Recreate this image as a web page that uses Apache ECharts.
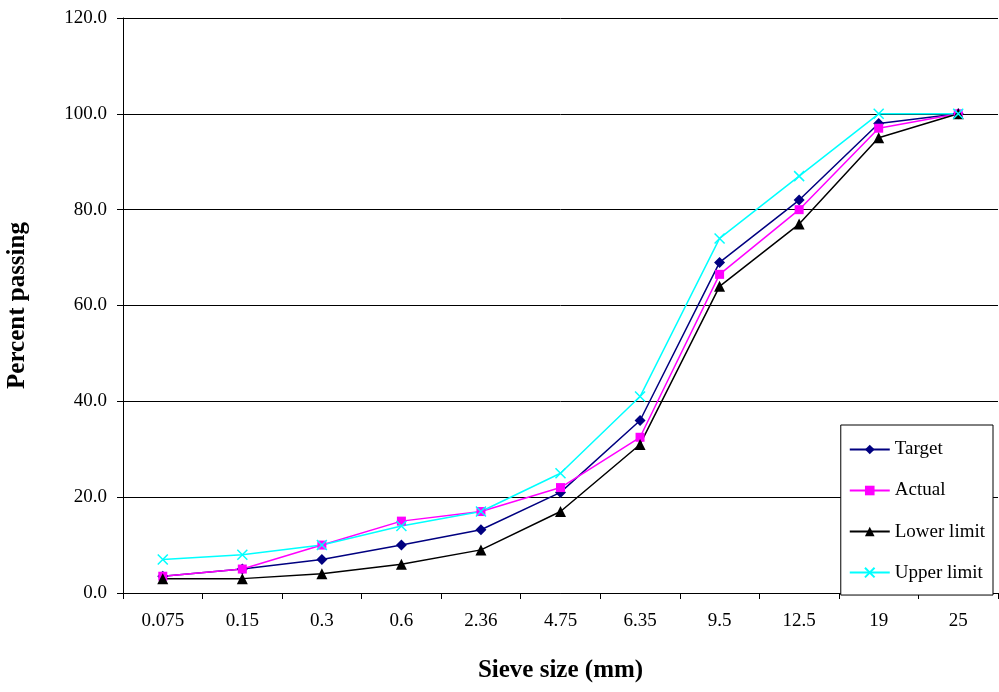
<!DOCTYPE html>
<html>
<head>
  <script src="https://cdn.jsdelivr.net/npm/echarts@6/dist/echarts.min.js"></script>
  <style>body{margin:0;background:#fff}#c{width:999px;height:692px}</style>
</head>
<body>
<div id="c"></div>
<script>
const sizes = ['0.075', '0.15', '0.3', '0.6', '2.36', '4.75', '6.35', '9.5', '12.5', '19', '25'];
const target = [3.5, 5, 7, 10, 13.2, 21, 36, 69, 82, 98, 100];
const actual = [3.5, 5, 10, 15, 17, 22, 32.5, 66.5, 80, 97, 100];
const lower = [3, 3, 4, 6, 9, 17, 31, 64, 77, 95, 100];
const upper = [7, 8, 10, 14, 17, 25, 41, 74, 87, 100, 100];

const font = 'Liberation Serif';
function line(name, data, color, symbol, size) {
  return {name, type: 'line', data, symbol, symbolSize: size,
    lineStyle: {color, width: 1.5}, itemStyle: {color}};
}
const option = {
  animation: false,
  textStyle: {fontFamily: font},
  grid: {left: 123, right: 1, top: 18, bottom: 99, outerBoundsMode: 'none', containLabel: false},
  xAxis: {
    type: 'category', data: sizes, boundaryGap: true,
    name: 'Sieve size (mm)', nameLocation: 'middle', nameGap: 58,
    nameTextStyle: {fontSize: 25, fontWeight: 'bold', color: '#000', fontFamily: font},
    axisLine: {lineStyle: {color: '#000'}},
    axisTick: {show: true, inside: false, length: 6, lineStyle: {color: '#000'}},
    axisLabel: {fontSize: 19, color: '#000', margin: 14, fontFamily: font}
  },
  yAxis: {
    type: 'value', min: 0, max: 120, interval: 20,
    name: 'Percent passing', nameLocation: 'middle', nameGap: 86,
    nameTextStyle: {fontSize: 25, fontWeight: 'bold', color: '#000', fontFamily: font},
    axisLine: {show: true, lineStyle: {color: '#000'}},
    axisTick: {show: true, length: 6, lineStyle: {color: '#000'}},
    axisLabel: {fontSize: 19, color: '#000', margin: 16, formatter: v => v.toFixed(1), fontFamily: font},
    splitLine: {lineStyle: {color: '#000', width: 1}}
  },
  legend: {
    orient: 'vertical', right: 6, top: 425, width: 176,
    backgroundColor: '#fff', borderColor: '#000', borderWidth: 1,
    padding: [10, 8, 8, 8], itemGap: 12, itemWidth: 40, itemHeight: 12,
    textStyle: {fontSize: 19, color: '#000', fontFamily: font}
  },
  series: [
    line('Target', target, '#000080', 'diamond', 11),
    line('Actual', actual, '#ff00ff', 'rect', 9),
    line('Lower limit', lower, '#000000', 'triangle', 11),
    line('Upper limit', upper, '#00ffff', 'path://M0,0L10,10M10,0L0,10', 10)
  ]
};
option.series[3].itemStyle = {color: 'none', borderColor: '#00ffff', borderWidth: 1.5};
echarts.init(document.getElementById('c')).setOption(option);
</script>
</body>
</html>
